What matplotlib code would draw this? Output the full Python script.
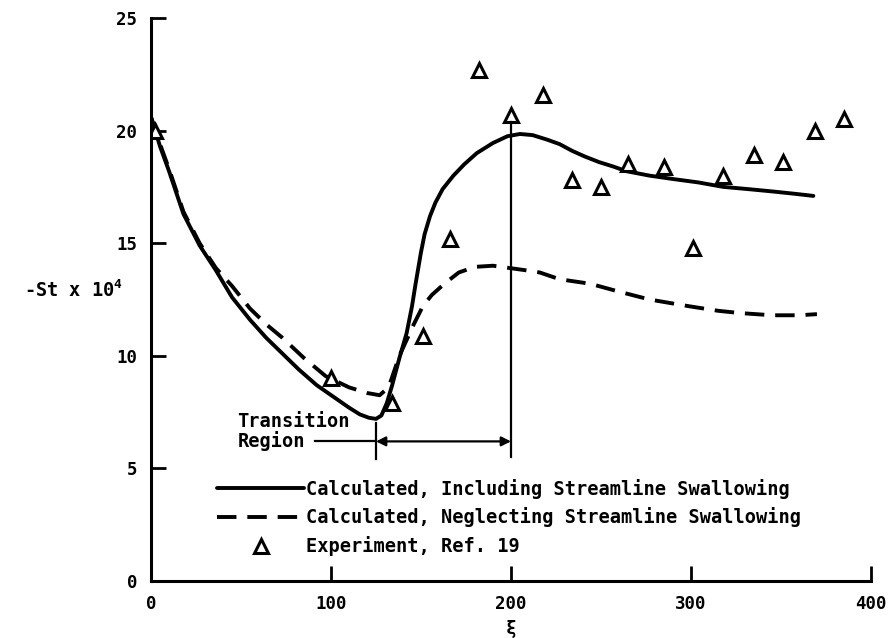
import matplotlib as mpl
mpl.use('Agg')
import matplotlib.pyplot as plt
import numpy as np

# values
xi_incl = [0, 5, 10, 18, 27, 36, 45, 55, 64, 73, 82, 92, 101, 110, 116, 121, 125,
           128, 131, 134, 138, 142, 145, 147, 150, 152, 155, 158, 162, 168, 174, 181,
           190, 198, 205, 212, 220, 227, 234, 241, 249, 257, 264, 277, 290, 304, 318,
           332, 345, 357, 368]
st_incl = [20.6, 19.3, 18.2, 16.3, 14.9, 13.8, 12.6, 11.6, 10.8, 10.1, 9.4, 8.7, 8.2,
           7.7, 7.4, 7.25, 7.2, 7.35, 7.9, 8.7, 9.9, 11.0, 12.2, 13.2, 14.6, 15.4,
           16.2, 16.8, 17.4, 18.0, 18.5, 19.0, 19.45, 19.75, 19.85, 19.8, 19.6, 19.4,
           19.1, 18.85, 18.6, 18.4, 18.2, 18.0, 17.85, 17.7, 17.5, 17.4, 17.3, 17.2,
           17.1]

xi_negl = [0, 5, 10, 18, 27, 36, 45, 55, 64, 73, 85, 97, 110, 120, 127, 132, 138, 142,
           146, 151, 156, 163, 171, 180, 190, 199, 208, 216, 227, 244, 260, 277, 299,
           315, 327, 345, 360, 370]
st_negl = [20.6, 19.4, 18.3, 16.4, 15.0, 13.9, 13.1, 12.1, 11.4, 10.8, 9.9, 9.1, 8.6,
           8.35, 8.25, 8.6, 10.0, 10.7, 11.4, 12.2, 12.7, 13.2, 13.7, 13.95, 14.0, 13.9,
           13.8, 13.7, 13.4, 13.2, 12.85, 12.5, 12.2, 12.0, 11.9, 11.8, 11.8, 11.85]

xi_exp = [2, 100, 134, 151, 166, 182, 200, 218, 234, 250, 265, 285, 301, 318, 335,
          351, 369, 385]
st_exp = [20.0, 9.0, 7.9, 10.9, 15.2, 22.7, 20.7, 21.6, 17.8, 17.5, 18.5, 18.4, 14.8,
          18.0, 18.9, 18.6, 20.0, 20.5]

trans_start = 125
trans_end = 200

mono = ['DejaVu Sans Mono', 'DejaVu Sans']
plt.rcParams['font.family'] = mono
plt.rcParams['font.weight'] = 'bold'
plt.rcParams['mathtext.fontset'] = 'custom'
plt.rcParams['mathtext.rm'] = 'DejaVu Sans Mono:bold'
plt.rcParams['mathtext.default'] = 'rm'

fig = plt.figure(figsize=(8.91, 6.38), dpi=100)
ax = fig.add_axes([0.1695, 0.0893, 0.808, 0.8825])

ax.plot(xi_incl, st_incl, color='black', lw=2.8, solid_capstyle='round',
        solid_joinstyle='round',
        label='Calculated, Including Streamline Swallowing')
ax.plot(xi_negl, st_negl, color='black', lw=2.8, dashes=(5, 2.8),
        label='Calculated, Neglecting Streamline Swallowing')
ax.plot(xi_exp, st_exp, linestyle='none', marker='^', markersize=10,
        markerfacecolor='white', markeredgecolor='black', markeredgewidth=2.2,
        label='Experiment, Ref. 19')

# transition region markers
ax.plot([trans_end, trans_end], [5.5, 20.4], color='black', lw=1.6)
ax.plot([trans_start, trans_start], [5.4, 7.0], color='black', lw=1.6)
ax.plot([91, trans_start], [6.2, 6.2], color='black', lw=1.6)
ax.annotate('', xy=(trans_start, 6.2), xytext=(trans_end, 6.2),
            arrowprops=dict(arrowstyle='<|-|>', color='black', lw=1.6,
                            shrinkA=0, shrinkB=0, mutation_scale=14))
ax.text(48, 6.63, 'Transition\nRegion', fontsize=13.4, fontweight='bold',
        ha='left', va='center', linespacing=1.0)

ax.set_xlim(0, 400)
ax.set_ylim(0, 25)
ax.set_xticks([0, 100, 200, 300, 400])
ax.set_yticks([0, 5, 10, 15, 20, 25])
ax.spines['top'].set_visible(False)
ax.spines['right'].set_visible(False)
for s in ['left', 'bottom']:
    ax.spines[s].set_linewidth(2.2)
ax.tick_params(direction='in', length=11, width=2, labelsize=12.5, pad=10)
for lab in ax.get_xticklabels() + ax.get_yticklabels():
    lab.set_fontweight('bold')

ax.set_xlabel('ξ', fontsize=13, fontweight='bold', labelpad=5)
ax.set_ylabel('-St x 10$^{4}$', fontsize=13.4, fontweight='bold', rotation=0,
              ha='center', va='center')
ax.yaxis.set_label_coords(-0.107, 0.517)

leg = ax.legend(loc='upper left', bbox_to_anchor=(0.092, 0.182), frameon=False,
                fontsize=13.4, handlelength=4.65, handletextpad=0.1,
                labelspacing=0.48, borderpad=0, borderaxespad=0, numpoints=1)
for t in leg.get_texts():
    t.set_fontweight('bold')

fig.savefig('out.png', dpi=100)
